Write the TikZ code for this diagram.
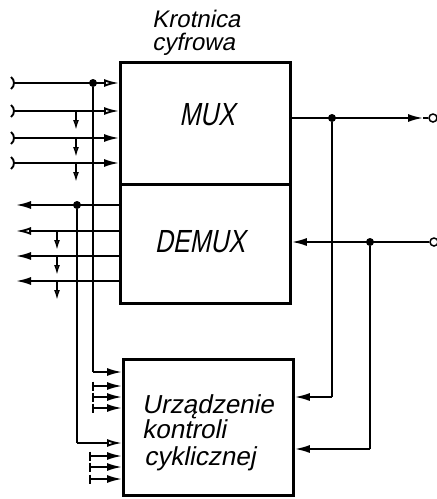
\documentclass[tikz,border=0pt]{standalone}
\usepackage{fontspec}
\newfontfamily\lett[FakeSlant=0.2]{Liberation Sans}
\newfontfamily\lettc[FakeSlant=0.2,FakeStretch=0.78]{Liberation Sans}
\usetikzlibrary{arrows.meta,calc}
\begin{document}
\begin{tikzpicture}[x=1pt,y=-1pt,
  blk/.style={draw, line width=2.8pt, inner sep=0pt, anchor=north west},
  conn/.style={line width=1.9pt},
  tipf/.style={-{Latex[length=15pt,width=8pt]}},
  tipo/.style={-{Latex[open,length=15pt,width=8pt]}},
  tap/.style={line width=1.6pt,-{Latex[open,length=10pt,width=6pt]}},
  dot/.style={circle, fill, inner sep=0pt, minimum size=8pt},
  term/.style={circle, draw, line width=1.5pt, fill=white, inner sep=0pt, minimum size=8pt},
  lbl/.style={inner sep=0pt}]
\useasboundingbox (0,0) rectangle (437,499);

% blocks
\node[blk, minimum width=170pt, minimum height=122pt] (mux) at (119,61) {};
\node[blk, minimum width=170pt, minimum height=119pt] (demux) at (119,183) {};
\node[blk, minimum width=170pt, minimum height=136pt] (ctrl) at (122,358) {};

% texts
\node[lbl, anchor=base west] (t1) at (152,27) {\lett\fontsize{24}{24}\selectfont Krotnica};
\node[lbl, anchor=base west] (t2) at (152,50) {\lett\fontsize{24}{24}\selectfont cyfrowa};
\node[lbl, anchor=base] (tmux) at (207,125) {\lettc\fontsize{32}{32}\selectfont MUX};
\node[lbl, anchor=base] (tdemux) at (200,252) {\lettc\fontsize{32}{32}\selectfont DEMUX};
\node[lbl, anchor=base west] (u1) at (142,413) {\lett\fontsize{26}{26}\selectfont Urządzenie};
\node[lbl, anchor=base west] (u2) at (142,438) {\lett\fontsize{26}{26}\selectfont kontroli};
\node[lbl, anchor=base west] (u3) at (144,465) {\lett\fontsize{26}{26}\selectfont cyklicznej};

% MUX inputs
\foreach \n/\y/\st in {1/83/tipo,2/111/tipo,3/138/tipf,4/163/tipf}{
  \coordinate (i\n) at (14,\y);
  \draw[conn,\st] (i\n) -- (i\n -| mux.west);
  \draw[conn] ($(i\n)+(-3,-6)$) .. controls ($(i\n)+(1,-3)$) and ($(i\n)+(1,3)$) .. ($(i\n)+(-3,6)$);
}
\foreach \n/\y in {2/111,3/138,4/163}{
  \coordinate (ta\n) at (76,\y);
  \coordinate (tb\n) at (76,\y+19);
  \draw[tap] (ta\n) -- (tb\n);
}
\node[dot] (j1) at (93,83) {};
\coordinate (k1) at (93,372);
\draw[conn] (j1) -- (k1);
\draw[conn,tipf] (k1) -- (k1 -| ctrl.west);

% DEMUX outputs
\foreach \n/\y/\st in {1/205/tipf,2/231/tipo,3/256/tipf,4/281/tipf}{
  \coordinate (o\n) at (16,\y);
  \draw[conn,\st] (o\n -| demux.west) -- (o\n);
}
\foreach \n/\y in {2/231,3/256,4/281}{
  \coordinate (da\n) at (57,\y);
  \coordinate (db\n) at (57,\y+19);
  \draw[tap] (da\n) -- (db\n);
}
\node[dot] (j2) at (77,205) {};
\coordinate (k2) at (77,443);
\draw[conn] (j2) -- (k2);
\draw[conn,tipo] (k2) -- (k2 -| ctrl.west);

% short inputs of the control unit
\foreach \n/\x/\y in {1/93/386,2/93/397,3/93/408,4/90/456,5/90/467,6/90/479}{
  \coordinate (s\n) at (\x,\y);
  \draw[conn,tipf] (s\n) -- (s\n -| ctrl.west);
  \draw[conn] ($(s\n)+(0,-4.5)$) -- ($(s\n)+(0,4.5)$);
}

% right side: MUX output
\node[term] (e1) at (433,118) {};
\coordinate (a1) at (423,118);
\draw[conn,tipf] (a1 -| mux.east) -- (a1);
\draw[conn] (a1) -- (e1.west);
\node[dot] (j3) at (332,118) {};
\coordinate (k3) at (332,397);
\draw[conn] (j3) -- (k3);
\draw[conn,tipf] (k3) -- (k3 -| ctrl.east);

% right side: DEMUX input
\node[term] (e2) at (434,242) {};
\draw[conn,tipf] (e2.west) -- (e2 -| demux.east);
\node[dot] (j4) at (370,242) {};
\coordinate (k4) at (370,449);
\draw[conn] (j4) -- (k4);
\draw[conn,tipf] (k4) -- (k4 -| ctrl.east);
\end{tikzpicture}
\end{document}
